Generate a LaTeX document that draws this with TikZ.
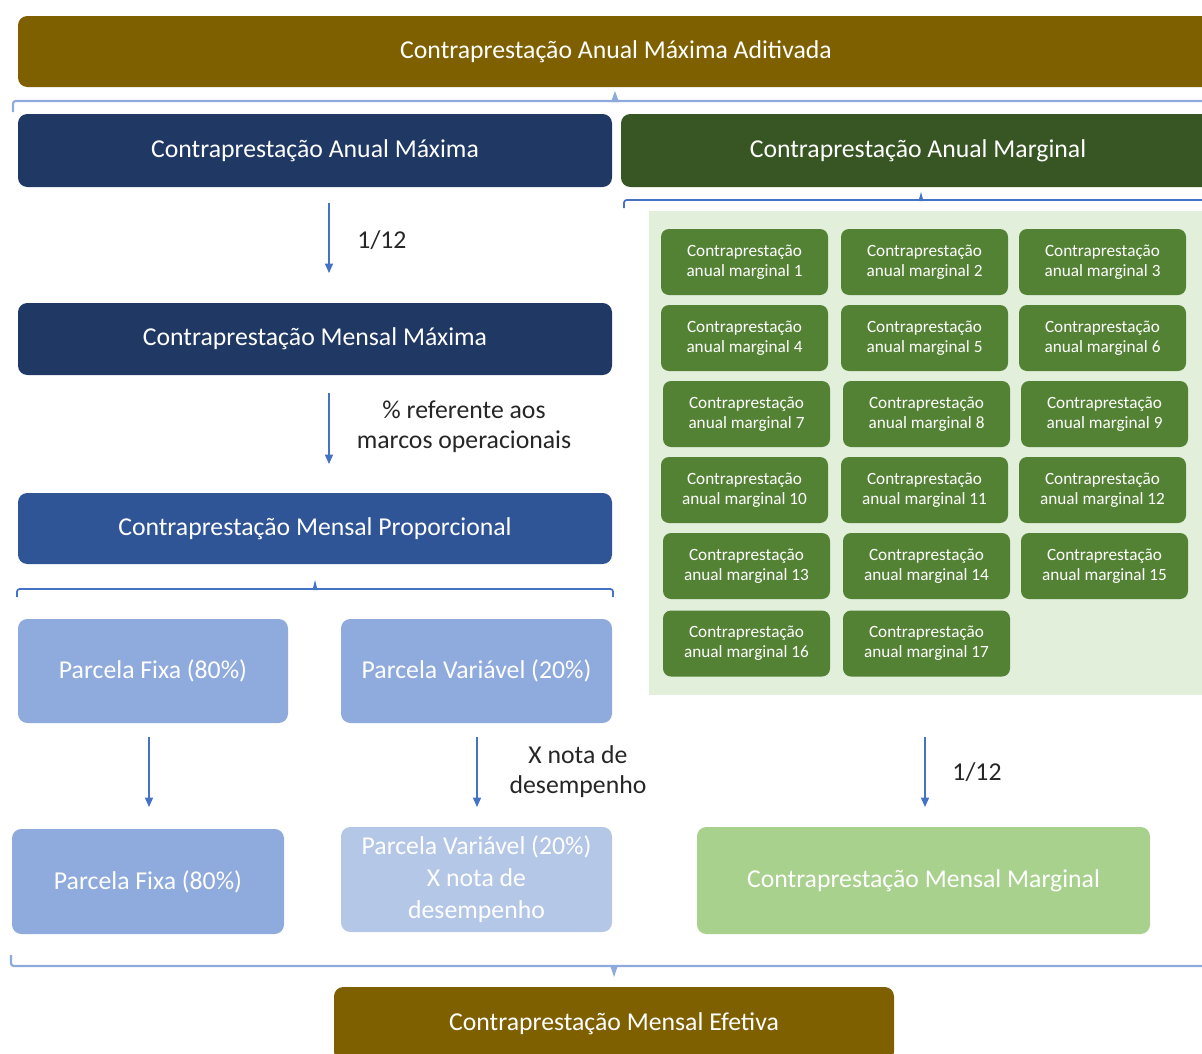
\documentclass[tikz,border=0pt]{standalone}
\usepackage{fontspec}
\setmainfont{Carlito}
\usetikzlibrary{arrows.meta}

\definecolor{ouro}{HTML}{7F6000}
\definecolor{marinho}{HTML}{1F3864}
\definecolor{verdeesc}{HTML}{375623}
\definecolor{azulmed}{HTML}{2F5597}
\definecolor{azulcl}{HTML}{8FAADC}
\definecolor{azulclaro}{HTML}{B4C7E7}
\definecolor{verdemed}{HTML}{548235}
\definecolor{verdepainel}{HTML}{E2EFDA}
\definecolor{verdecl}{HTML}{A9D18E}
\definecolor{seta}{HTML}{4472C4}
\definecolor{chave}{HTML}{8EA9DB}
\definecolor{texto}{HTML}{262626}

\newcommand\fsMain{\fontsize{19.3pt}{22.5pt}\selectfont}
\newcommand\fsGrid{\fontsize{12.9pt}{15pt}\selectfont}
\newcommand\fsLbl{\fontsize{19.3pt}{22.5pt}\selectfont}

\begin{document}
\begin{tikzpicture}[x=0.75pt,y=-0.75pt,
  box/.style={rounded corners=7pt, text=white, align=center, inner sep=0pt, font=\fsMain},
  gridbox/.style={rounded corners=6pt, fill=verdemed, text=white, align=center, inner sep=0pt,
    font=\fsGrid, minimum width=125.25pt, minimum height=49.5pt},
  sz/.style 2 args={minimum width={#1*0.75pt}, minimum height={#2*0.75pt}},
  lbl/.style={text=texto, align=center, font=\fsLbl, inner sep=0pt},
  arr/.style={draw=seta, line width=1.1pt, -{Triangle[length=7pt,width=6pt]}},
  brace/.style={draw=seta, line width=1.3pt, rounded corners=2pt},
  bracelt/.style={draw=chave, line width=1.6pt, rounded corners=2pt},
  spike/.style={fill=#1, draw=none}]

\useasboundingbox (0,0) rectangle (1202,1053);
\clip (0,0) rectangle (1202,1053);

% top level: annual maximum including amendments
\node[box, fill=ouro, sz={1196}{71}] (aditivada) at (616,51.5) {Contraprestação Anual Máxima Aditivada};

% brace splitting into the two annual components
\draw[bracelt] (13,112) -- (13,101) -- (1215,101);
\fill[spike=chave] (611,102) -- (615,91) -- (619,102) -- cycle;

\node[box, fill=marinho, sz={594}{73}] (anualmax) at (315,150.5) {Contraprestação Anual Máxima};
\node[box, fill=verdeesc, sz={594}{73}] (anualmarg) at (918,150.5) {Contraprestação Anual Marginal};

% brace over the marginal items
\draw[brace] (624,208) -- (624,200) -- (1215,200);
\fill[spike=seta] (918.5,201) -- (921,192) -- (923.5,201) -- cycle;

% panel holding the 17 marginal items
\node[fill=verdepainel, sz={570}{484}, anchor=north west, inner sep=0pt] (painel) at (649,211) {};

\foreach \n/\cx/\cy in {1/744.5/262, 2/924.5/262, 3/1102.5/262,
                        4/744.5/338, 5/924.5/338, 6/1102.5/338,
                        7/746.5/414, 8/926.5/414, 9/1104.5/414,
                        10/744.5/490, 11/924.5/490, 12/1102.5/490,
                        13/746.5/566, 14/926.5/566, 15/1104.5/566,
                        16/746.5/643.5, 17/926.5/643.5}
  \node[gridbox] (marg\n) at (\cx,\cy) {Contraprestação\\anual marginal \n};

% left column: annual -> monthly -> proportional
\coordinate (s1a) at (329,203);
\coordinate (s1b) at (329,273);
\draw[arr] (s1a) -- (s1b);
\node[lbl] (doze1) at (382,240) {1/12};

\node[box, fill=marinho, sz={594}{72}] (mensalmax) at (315,339) {Contraprestação Mensal Máxima};

\coordinate (s2a) at (329,393);
\coordinate (s2b) at (329,464);
\draw[arr] (s2a) -- (s2b);
\node[lbl] (marcos) at (464,427) {\% referente aos\\marcos operacionais};

\node[box, fill=azulmed, sz={594}{71}] (proporcional) at (315,528.5) {Contraprestação Mensal Proporcional};

% brace splitting into fixed and variable portions
\draw[brace] (17,597) -- (17,589) -- (613,589) -- (613,597);
\fill[spike=seta] (312.5,590) -- (315,580) -- (317.5,590) -- cycle;

\node[box, fill=azulcl, sz={270}{104}] (fixa1) at (153,671) {Parcela Fixa (80\%)};
\node[box, fill=azulcl, sz={271}{104}] (var1) at (476.5,671) {Parcela Variável (20\%)};

% arrows to the monthly results
\coordinate (s3a) at (149,737);
\coordinate (s3b) at (149,807);
\draw[arr] (s3a) -- (s3b);
\coordinate (s4a) at (477,737);
\coordinate (s4b) at (477,807);
\draw[arr] (s4a) -- (s4b);
\node[lbl] (notadesemp) at (578,772) {X nota de\\desempenho};
\coordinate (s5a) at (925,737);
\coordinate (s5b) at (925,807);
\draw[arr] (s5a) -- (s5b);
\node[lbl] (doze2) at (977,772) {1/12};

\node[box, fill=azulcl, sz={272}{105}] (fixa2) at (148,881.5) {Parcela Fixa (80\%)};
\node[box, fill=azulclaro, sz={271}{105}, font=\fontsize{19.3pt}{24pt}\selectfont] (var2) at (476.5,879.5) {Parcela Variável (20\%)\\X nota de\\desempenho};
\node[box, fill=verdecl, sz={453}{107}] (mensalmarg) at (923.5,880.5) {Contraprestação Mensal Marginal};

% brace joining everything into the effective monthly payment
\draw[bracelt] (11,955) -- (11,966) -- (1215,966);
\fill[spike=chave] (610,965) -- (614,977) -- (618,965) -- cycle;

\node[box, fill=ouro, sz={560}{74}] (efetiva) at (614,1024) {Contraprestação Mensal Efetiva};

\end{tikzpicture}
\end{document}
